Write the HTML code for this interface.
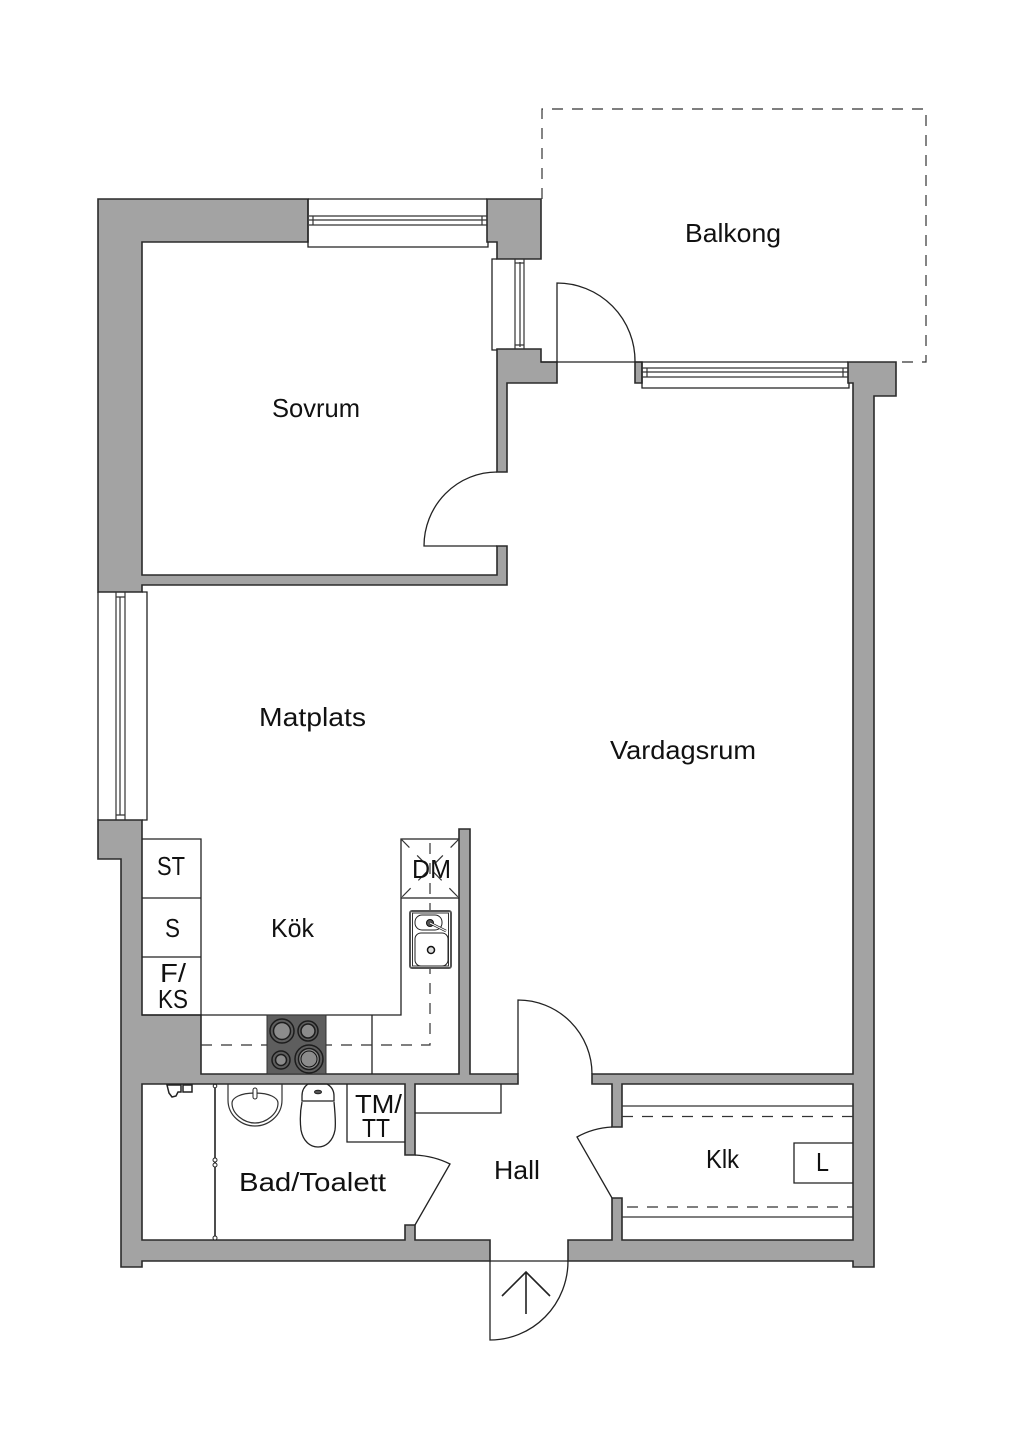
<!DOCTYPE html>
<html><head><meta charset="utf-8"><title>Floor plan</title>
<style>
html,body{margin:0;padding:0;background:#fff;width:1024px;height:1448px;overflow:hidden}
svg{display:block}
.w{fill:#a3a3a3;stroke:#2b2b2b;stroke-width:1.6;stroke-linejoin:miter}
.l{fill:none;stroke:#222;stroke-width:1.3}
.t{fill:none;stroke:#333;stroke-width:1.2}
.d{fill:none;stroke:#333;stroke-width:1.2;stroke-dasharray:11 9}
text{font-family:"Liberation Sans",sans-serif;font-size:26px;fill:#111}
</style></head><body>
<svg width="1024" height="1448" viewBox="0 0 1024 1448" xmlns="http://www.w3.org/2000/svg">
<rect width="1024" height="1448" fill="#fff"/>

<!-- walls -->
<path class="w" d="M98 199H308V242H142V575H497V546H507V585H142V592H98Z"/>
<path class="w" d="M487 199H541V259H497V242H487Z"/>
<path class="w" d="M497 349H541V362H557V383H507V472H497Z"/>
<path class="w" d="M635 362H642V383H635Z"/>
<path class="w" d="M848 362H896V396H874V1267H853V1261H568V1240H612V1198H622V1240H853V1084H622V1127H612V1084H592V1074H853V383H848Z"/>
<path class="w" d="M98 820H142V1015H201V1074H459V829H470V1074H518V1084H415V1155H405V1084H142V1240H405V1225H415V1240H490V1261H142V1267H121V859H98Z"/>

<!-- balcony -->
<path class="d" d="M542 199V109H926V362H896" stroke-dasharray="10 8"/>
<path class="l" d="M541 362H848"/>

<!-- window top -->
<path class="l" d="M308 199H487M308 199V247H488V242"/>
<path class="t" d="M309 216H487M309 220H487M309 225H487M313 216V225M482 216V225"/>
<!-- window sovrum east -->
<path class="l" d="M497 259H492V350H497"/>
<path class="t" d="M515 259V349M520 262V347M524 259V349M515 263H524M515 345H524"/>
<!-- window living -->
<path class="l" d="M642 362V388H849V383"/>
<path class="t" d="M642 368H848M642 372H848M642 377H848M647 368V377M843 368V377"/>
<!-- window west -->
<path class="l" d="M98 592V820M142 592H147V820H142"/>
<path class="t" d="M116 592V820M120 597V815M125 592V820M116 597H125M116 815H125"/>

<!-- doors -->
<path class="l" d="M557 362V283A78 78 0 0 1 635 362"/>
<path class="l" d="M497 546H424A73 74 0 0 1 497 472"/>
<path class="l" d="M518 1074V1000A74 74 0 0 1 592 1074"/>
<path class="l" d="M415 1155Q434 1156 450 1164L415 1225"/>
<path class="l" d="M612 1127Q593 1128 577 1137L612 1198"/>
<path class="l" d="M490 1261V1340A78 79 0 0 0 568 1261M490 1261H568"/>
<path d="M526 1272V1314M502 1296L526 1272L550 1296" fill="none" stroke="#222" stroke-width="1.6"/>

<!-- kitchen -->
<path class="l" d="M142 839H201V1015M142 898H201M142 957H201M142 1015H401V839H459M401 898H459M372 1015V1074"/>
<path class="t" d="M401 839L459 898M459 839L401 898" stroke-dasharray="12 11"/>
<path class="d" d="M201 1045H430V839"/>
<rect x="267" y="1015" width="59" height="59" fill="#5e5e5e" stroke="#333"/>
<g stroke="#1c1c1c" fill="#8c8c8c">
<circle cx="282" cy="1031" r="12" stroke-width="1.5" fill="#5e5e5e"/><circle cx="282" cy="1031" r="8.5" stroke-width="1.5"/>
<circle cx="308" cy="1031" r="10" stroke-width="1.5" fill="#5e5e5e"/><circle cx="308" cy="1031" r="7" stroke-width="1.5"/>
<circle cx="281" cy="1060" r="9" stroke-width="1.5" fill="#5e5e5e"/><circle cx="281" cy="1060" r="5.500" stroke-width="1.5"/>
<circle cx="309" cy="1059" r="14" stroke-width="1.5" fill="#5e5e5e"/><circle cx="309" cy="1059" r="10.500" stroke-width="1.5"/><circle cx="309" cy="1059" r="8" stroke="#111"/>
</g>
<rect x="410" y="911" width="41" height="57" rx="2" fill="#fff" stroke="#555" stroke-width="2"/>
<rect x="412.500" y="913" width="36" height="53" fill="none" stroke="#333" stroke-width="1"/>
<rect x="415" y="915" width="27" height="15" rx="7" fill="#fff" stroke="#222"/>
<rect x="415" y="933" width="33" height="33" rx="6" fill="#fff" stroke="#222"/>
<circle cx="430" cy="923" r="3.500" fill="#555" stroke="#111"/>
<path d="M430 923L446 931" stroke="#222" stroke-width="2.500"/>
<path d="M430 923L446 931" stroke="#fff" stroke-width="1"/>
<circle cx="431" cy="950" r="3.500" fill="#ddd" stroke="#111" stroke-width="1.500"/>

<!-- bath -->
<path d="M215 1084V1240" stroke="#222" stroke-width="1.600"/>
<g fill="#fff" stroke="#222"><circle cx="215" cy="1086" r="1.800"/><circle cx="215" cy="1160" r="2"/><circle cx="215" cy="1165" r="2"/><circle cx="215" cy="1238" r="2"/></g>
<path class="t" d="M228 1084V1100C228 1116 242 1126 255 1126S282 1116 282 1100V1084"/>
<path class="t" d="M232 1103C232 1098 240 1093 255 1093S278 1098 278 1103C278 1114 266 1123 255 1123S232 1114 232 1103Z"/>
<rect x="253" y="1088" width="4" height="11" rx="2" fill="#fff" stroke="#222"/>
<path class="l" d="M308 1084H327Q334 1088 334 1096V1101H302V1096Q302 1088 308 1084ZM302 1102C300 1112 300 1122 301 1130C303 1141 310 1147 318 1147S333 1141 335 1130C336 1122 335 1112 334 1102"/>
<ellipse cx="318" cy="1092" rx="3.500" ry="1.800" fill="#555" stroke="#222"/>
<path d="M167 1085L169 1093L172 1097L176 1096L178 1092H181V1085Z M183 1085H192V1092H183Z" fill="#fff" stroke="#222" stroke-width="1.500"/>
<path class="l" d="M347 1084V1142H405"/>

<!-- hall and klk -->
<path class="l" d="M415 1113H501V1084"/>
<path class="t" d="M622 1106H853M622 1217H853"/>
<path class="d" d="M622 1116.500H853M627 1207H853"/>
<path class="l" d="M853 1143H794V1183H853"/>

<!-- labels -->
<text x="272" y="417" textLength="88" lengthAdjust="spacingAndGlyphs">Sovrum</text>
<text x="685" y="242" textLength="96" lengthAdjust="spacingAndGlyphs">Balkong</text>
<text x="259" y="726" textLength="107" lengthAdjust="spacingAndGlyphs">Matplats</text>
<text x="610" y="759" textLength="146" lengthAdjust="spacingAndGlyphs">Vardagsrum</text>
<text x="271" y="937" textLength="43" lengthAdjust="spacingAndGlyphs">Kök</text>
<text x="157" y="875" textLength="28" lengthAdjust="spacingAndGlyphs">ST</text>
<text x="165" y="937" textLength="15" lengthAdjust="spacingAndGlyphs">S</text>
<text x="160" y="982" textLength="26" lengthAdjust="spacingAndGlyphs">F/</text>
<text x="158" y="1008" textLength="30" lengthAdjust="spacingAndGlyphs">KS</text>
<text x="412" y="878" textLength="39" lengthAdjust="spacingAndGlyphs">DM</text>
<text x="355" y="1113" textLength="47" lengthAdjust="spacingAndGlyphs">TM/</text>
<text x="362" y="1137" textLength="28" lengthAdjust="spacingAndGlyphs">TT</text>
<text x="239" y="1191" textLength="147" lengthAdjust="spacingAndGlyphs">Bad/Toalett</text>
<text x="494" y="1179" textLength="46" lengthAdjust="spacingAndGlyphs">Hall</text>
<text x="706" y="1168" textLength="33" lengthAdjust="spacingAndGlyphs">Klk</text>
<text x="816" y="1171" textLength="13" lengthAdjust="spacingAndGlyphs">L</text>
</svg>
</body></html>
